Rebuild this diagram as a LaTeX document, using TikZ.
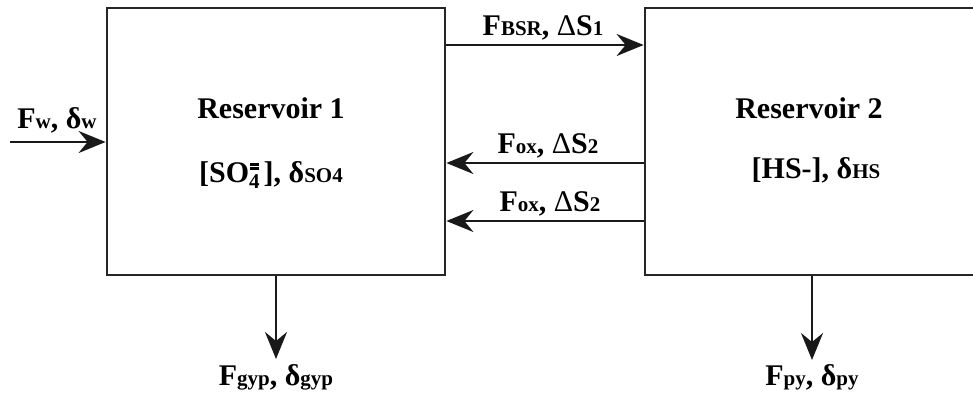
\documentclass[tikz,border=0pt]{standalone}
\usepackage{fontspec}
\setmainfont{Liberation Serif}
\usetikzlibrary{arrows.meta}
% small subscript-like letters that sit on the baseline
\newcommand{\lowsub}[1]{{\fontsize{21}{24}\selectfont #1}}
% double-bar charge mark drawn as two short rules
\newcommand{\dblcharge}{\rlap{\rule[4pt]{9pt}{2.2pt}}\rule{9pt}{2.2pt}}
% sulfate charge stacked over the index
\newcommand{\sulfidx}{\makebox[0pt][l]{\hspace{1pt}\raisebox{12.5pt}{\dblcharge}}\raisebox{-0.45ex}{\fontsize{21}{24}\selectfont 4}\hspace{4pt}}
\begin{document}
\begin{tikzpicture}[x=1pt,y=-1pt,
  resbox/.style={draw=black!85, line width=2.8pt, inner sep=0pt},
  flow/.style={draw=black!90, line width=2.4pt,
    -{Stealth[length=27pt,width=22pt,inset=9pt]}},
  lbl/.style={font=\fontsize{30}{34}\selectfont\bfseries, inner sep=0pt, anchor=base}]
\useasboundingbox (0,0) rectangle (973,394);

% the two reservoirs
\node[resbox, minimum width=338pt, minimum height=267pt] (r1) at (276,141.5) {};
\node[resbox, minimum width=334pt, minimum height=267pt] (r2) at (812,141.5) {};

\node[lbl] (t1) at (271,118) {Reservoir 1};
\node[lbl] (c1) at (271,182) {[SO\sulfidx], δ\lowsub{SO4}};
\node[lbl] (t2) at (809,118) {Reservoir 2};
\node[lbl] (c2) at (816,178) {[HS-], δ\lowsub{HS}};

% inflow to reservoir 1
\coordinate (win) at (10,142);
\draw[flow] (win) -- (r1.west |- win);
\node[lbl] (fw) at (57,128) {F\lowsub{w}, δ\lowsub{w}};

% exchange between the reservoirs
\draw[flow] (r1.east |- 0,45) -- (r2.west |- 0,45);
\node[lbl] (fbsr) at (543,35) {F\lowsub{BSR}, {\mdseries Δ}S\lowsub{1}};
\draw[flow] (r2.west |- 0,163) -- (r1.east |- 0,163);
\node[lbl] (fox1) at (548,153) {F\lowsub{ox}, {\mdseries Δ}S\lowsub{2}};
\draw[flow] (r2.west |- 0,221) -- (r1.east |- 0,221);
\node[lbl] (fox2) at (550,211) {F\lowsub{ox}, {\mdseries Δ}S\lowsub{2}};

% outputs
\coordinate (gyp) at (276,359);
\draw[flow] (r1.south) -- (gyp);
\node[lbl] (fgyp) at (276,385) {F\lowsub{gyp}, δ\lowsub{gyp}};
\coordinate (py) at (812,360);
\draw[flow] (r2.south) -- (py);
\node[lbl] (fpy) at (812,385) {F\lowsub{py}, δ\lowsub{py}};
\end{tikzpicture}
\end{document}
